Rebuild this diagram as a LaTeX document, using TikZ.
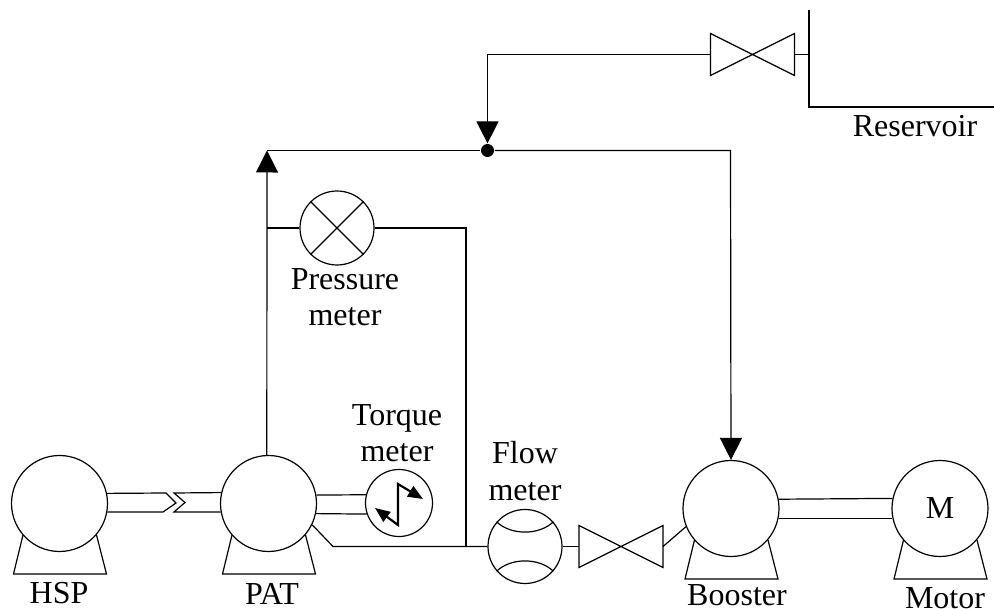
\documentclass[tikz,border=0pt]{standalone}
\usepackage{fontspec}
\setmainfont{Liberation Serif}
\usetikzlibrary{arrows.meta}

\tikzset{
    pump/.style={draw, circle, inner sep=0pt, minimum size=96pt},
    meter/.style={draw, circle, inner sep=0pt, minimum size=74pt},
    torque/.style={draw, circle, inner sep=0pt, minimum size=67pt},
    valve/.style={inner sep=0pt, outer sep=0pt, minimum width=84pt, minimum height=42pt},
    junction/.style={fill, circle, inner sep=0pt, minimum size=13pt},
    flowtip/.style={-{Triangle[length=22pt,width=22pt]}},
    tag/.style={align=center, inner sep=0pt, font=\fontsize{32}{36.5}\selectfont}
}

\begin{document}
\begin{tikzpicture}[x=1pt, y=-1pt, line width=1.2pt]
        \useasboundingbox (0,0) rectangle (994,609);

        % Nodes
        \node (hsp) [pump] at (59.5,503.5) {};
        \node (pat) [pump] at (268.5,503.5) {};
        \node (booster) [pump] at (731,508.5) {};
        \node (motor) [pump, tag] at (940,508.5) {M};
        \node (pressure) [meter] at (337,228) {};
        \node (torquemeter) [torque] at (399,503) {};
        \node (flowmeter) [meter] at (525,546.5) {};
        \node (lowvalve) [valve] at (621,546.5) {};
        \node (topvalve) [valve] at (752.5,54.5) {};
        \node (tee) [junction] at (487.5,150.5) {};

        % Labels
        \node (hsplabel) [tag] at (59,593) {HSP};
        \node (patlabel) [tag] at (272,593.5) {PAT};
        \node (boosterlabel) [tag] at (737,595) {Booster};
        \node (motorlabel) [tag] at (945,598) {Motor};
        \node (pressurelabel) [tag] at (345,297) {Pressure\\meter};
        \node (torquelabel) [tag] at (397,433) {Torque\\meter};
        \node (flowlabel) [tag] at (525,471) {Flow\\meter};
        \node (reservoirlabel) [tag] at (915,126) {Reservoir};

        % Corners and free ends
        \coordinate (riser) at (267,150.5);
        \coordinate (drop) at (730.5,150.5);
        \coordinate (feed) at (487.5,54.5);
        \coordinate (tap) at (466,228);
        \coordinate (bend) at (333,546.5);
        \coordinate (restop) at (809,10);
        \coordinate (rescorner) at (809,107);
        \coordinate (resend) at (994,107);
        \coordinate (hspa) at (166,493);
        \coordinate (hspb) at (176,503);
        \coordinate (hspc) at (163,512);
        \coordinate (pata) at (174,493);
        \coordinate (patb) at (185,502.5);
        \coordinate (patc) at (174,512);

        % Pump feet
        \foreach \base in {hsp,pat,booster,motor} {
            \draw ([shift={(-36.5,31.5)}]\base.center) -- ([shift={(-46,70.5)}]\base.center)
                -- ([shift={(47,70.5)}]\base.center) -- ([shift={(37,31.5)}]\base.center);
        }

        % Valves
        \foreach \body in {lowvalve,topvalve} {
            \draw (\body.north west) -- (\body.south east) -- (\body.north east)
                -- (\body.south west) -- cycle;
        }

        % Meter faces
        \draw (pressure.45) -- (pressure.225);
        \draw (pressure.135) -- (pressure.315);
        \draw (flowmeter.139) .. controls ([shift={(-14,-11)}]flowmeter.center) and ([shift={(14,-11)}]flowmeter.center) .. (flowmeter.41);
        \draw (flowmeter.221) .. controls ([shift={(-14,11)}]flowmeter.center) and ([shift={(14,11)}]flowmeter.center) .. (flowmeter.319);
        \draw[line width=2.2pt, {Triangle[length=15pt,width=12pt]}-{Triangle[length=15pt,width=12pt]}]
            ([shift={(-24,5)}]torquemeter.center) -- ([shift={(-1,22)}]torquemeter.center)
            -- ([shift={(-1,-19)}]torquemeter.center) -- ([shift={(24,-4)}]torquemeter.center);

        % Edges
        \draw (hsp.12.6) -- (hspa) -- (hspb) -- (hspc) -- (hsp.-10.2);
        \draw (pat.167.4) -- (pata) -- (patb) -- (patc) -- (pat.190.2);
        \draw (pat.10.2) -- (torquemeter.166.2);
        \draw (pat.-12.6) -- (torquemeter.199.2);
        \draw (booster.11.4) -- (motor.168.6);
        \draw (booster.-12.6) -- (motor.192.6);
        \draw (pat.-26) -- (bend) -- (flowmeter.west);
        \draw (flowmeter.east) -- (lowvalve.west);
        \draw (lowvalve.east) -- (booster.202);
        \draw[flowtip] (pat.92) -- (riser);
        \draw (riser) -- (tee);
        \draw[flowtip] (tee) -- (drop) -- (booster.north);
        \draw[flowtip] (topvalve.west) -- (feed) -- (tee.north);
        \draw (topvalve.east) -- (topvalve.east -| restop);
        \draw (restop) -- (rescorner) -- (resend);
        \draw (riser |- pressure.west) -- (pressure.west);
        \draw (pressure.east) -- (tap) -- (tap |- bend);
    \end{tikzpicture}
\end{document}
